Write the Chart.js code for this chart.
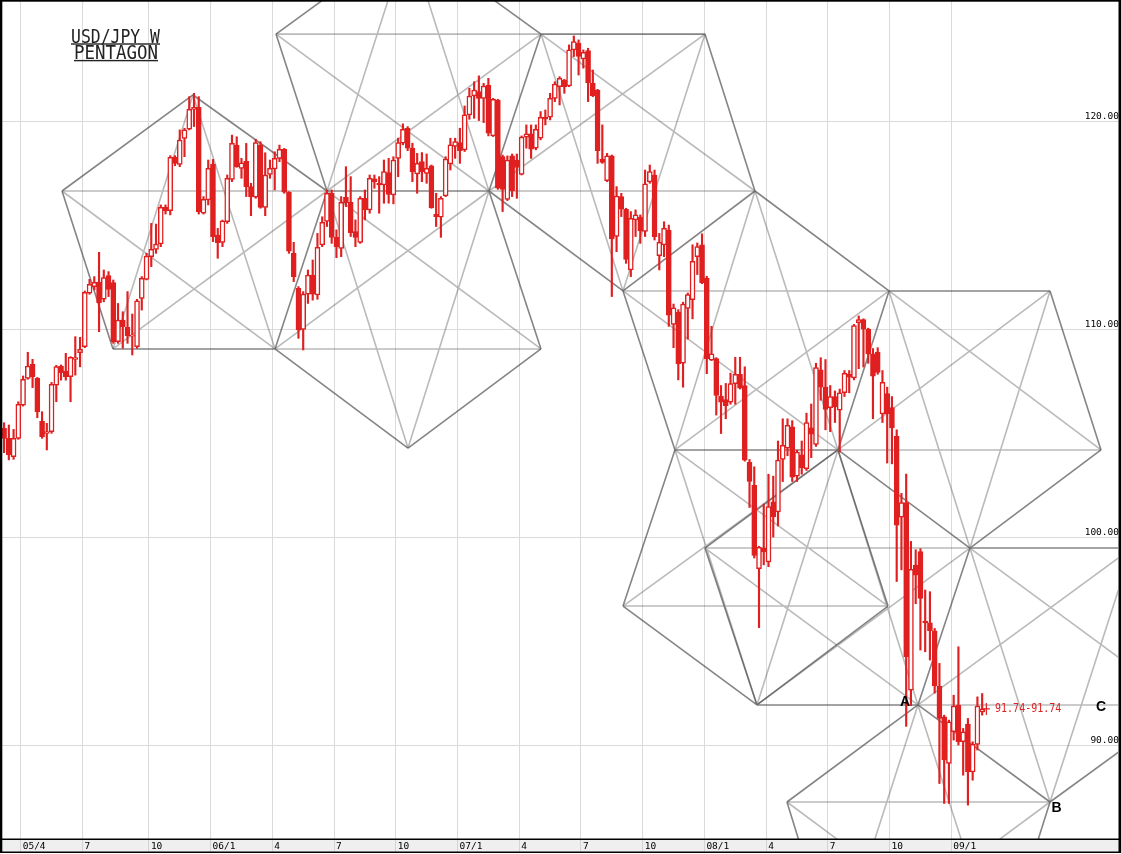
<!DOCTYPE html>
<html>
<head>
<meta charset="utf-8">
<title>USD/JPY W PENTAGON</title>
<script src="https://cdn.jsdelivr.net/npm/chart.js@4.4.1/dist/chart.umd.min.js"></script>
<style>
  html, body { margin: 0; padding: 0; background: #fff; }
  #wrap { width: 1121px; height: 854px; }
</style>
</head>
<body>
<div id="wrap"><canvas id="chart" width="1121" height="854"></canvas></div>
<script>
// weekly bars, first one is the week of Monday 2005-02-28
const firstWeek = Date.UTC(2005, 1, 28);

const opens = [
  105.24,104.76,103.88,104.76,106.36,107.64,108.32,107.65,105.59,105.00,
  105.08,107.32,108.24,108.00,107.73,108.56,108.88,109.17,111.74,112.06,
  112.27,111.45,112.59,112.25,109.41,110.45,110.10,109.68,109.17,111.49,
  112.41,113.50,113.85,114.11,115.87,115.71,118.28,117.94,119.19,119.63,
  120.59,120.69,115.59,116.23,117.96,114.54,114.19,115.18,117.22,118.87,
  117.75,118.10,116.87,116.36,118.87,115.87,117.46,117.72,118.23,118.66,
  116.60,113.66,111.98,110.00,111.70,112.62,111.66,114.06,115.19,116.55,
  114.43,113.90,116.36,116.12,114.71,114.19,116.31,115.75,117.24,117.03,
  116.95,117.54,116.47,118.23,118.96,119.68,118.72,117.48,118.07,117.51,
  117.87,115.54,115.40,116.42,117.96,118.80,118.99,118.64,120.32,121.23,
  121.44,121.12,121.76,119.31,121.04,118.31,116.26,118.35,118.15,117.46,
  119.25,119.41,118.72,119.20,120.21,120.21,121.12,121.68,122.00,121.71,
  123.45,123.77,123.01,123.42,121.84,121.52,118.20,117.16,118.35,114.47,
  116.39,115.78,112.86,115.27,115.40,114.71,117.10,117.43,113.55,114.06,
  114.78,110.24,110.83,108.37,111.01,111.43,113.50,114.07,112.47,108.52,
  108.60,106.79,106.62,106.50,107.39,107.84,107.30,103.60,102.50,98.49,
  99.47,98.81,101.70,101.22,103.74,104.28,105.31,102.94,103.96,103.30,
  105.26,104.46,108.05,107.22,106.24,106.77,106.11,106.95,107.84,107.66,
  110.33,110.47,110.01,108.82,108.91,105.93,106.91,106.24,104.85,100.96,
  101.67,92.64,98.66,99.31,95.96,95.88,95.50,92.84,91.36,89.12,
  90.64,91.92,90.16,91.01,88.71,90.03,91.60
];
const highs = [
  105.51,105.40,105.19,106.52,107.76,108.90,108.56,107.69,106.04,105.48,
  107.45,108.27,108.29,108.85,108.69,109.65,109.62,111.85,112.41,112.54,
  113.71,112.86,112.78,112.38,111.25,110.85,111.82,110.74,111.45,112.54,
  113.66,115.10,115.07,115.99,115.99,118.36,118.36,119.60,119.68,121.20,
  121.36,121.20,116.39,118.15,118.18,114.86,115.26,117.43,119.35,119.27,
  118.23,118.95,117.03,119.15,119.03,118.50,118.15,118.55,118.87,118.71,
  116.63,114.19,112.06,111.82,112.86,113.34,114.62,115.42,116.71,116.71,
  114.79,116.39,117.83,117.35,115.27,116.39,116.71,117.43,117.43,117.35,
  118.15,118.23,118.31,119.20,119.89,119.76,118.96,118.47,118.51,118.44,
  117.91,116.55,116.39,118.31,119.20,119.20,119.68,120.75,121.60,121.92,
  122.20,121.84,122.08,121.12,121.07,118.39,118.35,118.44,118.44,119.31,
  119.84,119.84,119.84,120.48,120.56,121.36,121.92,122.16,122.03,123.69,
  124.12,123.93,123.45,123.53,122.48,121.55,119.84,118.47,118.39,116.87,
  116.55,115.83,115.67,115.75,115.51,117.67,117.91,117.67,114.62,115.18,
  115.02,111.22,110.95,111.31,111.75,114.07,114.16,114.60,112.56,110.15,
  108.64,107.30,107.40,107.90,108.66,108.66,108.20,103.74,103.39,99.56,
  101.60,103.03,102.94,104.63,105.70,105.70,105.61,104.19,104.63,105.97,
  106.41,108.37,108.64,108.55,107.30,107.04,107.13,108.02,108.02,110.24,
  110.65,110.51,110.06,109.08,109.12,108.02,107.22,106.77,105.17,102.11,
  103.04,99.80,99.40,99.45,97.46,97.38,95.61,93.93,91.44,91.20,
  92.40,94.73,90.80,91.28,90.16,92.32,92.48
];
const lows = [
  104.07,103.72,103.75,104.71,106.31,107.60,107.20,105.75,104.76,104.20,
  105.00,106.52,107.56,107.56,106.52,107.80,108.20,109.12,111.69,111.90,
  109.89,111.33,111.58,109.33,109.33,109.09,109.33,108.77,109.09,110.93,
  112.38,113.02,113.66,113.98,115.55,115.51,117.88,117.83,118.31,119.60,
  119.76,115.55,115.55,115.99,114.22,113.42,113.98,115.10,117.11,117.80,
  117.27,116.39,115.47,116.31,115.83,115.47,117.27,116.71,118.07,116.55,
  113.66,112.30,109.57,109.01,111.25,111.41,111.45,113.98,114.95,114.14,
  113.45,113.50,115.91,114.47,113.98,114.14,115.27,115.59,116.79,115.59,
  116.07,116.07,116.04,117.35,118.88,118.60,117.11,116.55,117.11,117.03,
  115.83,114.95,114.43,116.39,117.67,118.23,117.99,118.56,120.11,120.16,
  120.05,119.95,119.31,119.28,116.74,115.67,116.20,116.39,116.31,117.43,
  118.72,118.23,118.64,119.12,119.84,120.08,120.96,120.80,121.36,121.68,
  123.13,122.24,122.57,120.96,121.20,117.99,117.99,117.11,111.58,113.74,
  115.43,113.18,112.54,114.47,114.14,114.47,117.03,114.30,112.86,113.50,
  110.15,109.12,107.57,107.22,109.53,110.51,112.64,112.20,107.87,108.50,
  105.88,104.99,105.70,106.40,106.40,107.13,103.66,101.43,99.00,95.65,
  98.67,98.58,100.01,100.54,102.68,103.92,102.68,102.68,103.03,103.21,
  103.83,104.37,106.59,105.17,105.08,105.52,104.10,106.77,106.95,107.57,
  108.11,108.19,108.37,105.70,107.84,105.52,103.57,103.53,97.87,98.43,
  90.90,91.90,96.80,94.57,94.49,94.09,92.50,88.15,87.19,87.19,
  90.24,90.00,88.55,87.11,88.31,89.76,91.44
];
const closes = [
  104.76,103.96,104.76,106.39,107.60,108.24,107.73,106.04,104.84,105.08,
  107.36,108.21,107.92,107.73,108.66,108.64,109.04,111.78,112.17,112.27,
  111.29,112.49,111.93,109.41,110.45,110.13,109.70,109.73,111.38,112.46,
  113.53,113.85,114.11,115.87,115.70,118.28,117.99,119.11,119.60,120.59,
  120.69,115.67,116.26,117.75,114.46,114.17,115.22,117.27,118.95,117.83,
  118.02,116.87,116.39,118.99,115.87,117.43,117.75,118.23,118.66,116.60,
  113.77,112.54,109.97,111.70,112.62,111.70,113.95,115.15,116.55,114.43,
  113.98,116.12,116.10,114.66,114.43,116.31,115.75,117.27,117.10,116.95,
  117.59,116.50,118.15,118.99,119.63,118.72,117.59,117.99,117.59,117.75,
  115.86,115.43,116.31,118.19,118.88,119.04,118.60,120.32,121.23,121.52,
  121.12,121.71,119.44,121.07,116.79,116.74,118.15,116.66,117.79,119.25,
  119.41,118.67,119.63,120.21,120.11,121.12,121.81,122.08,121.68,123.45,
  123.85,123.13,123.33,121.87,121.25,118.60,118.04,118.35,114.35,116.42,
  115.78,113.37,115.34,115.51,114.74,117.00,117.59,114.46,114.19,114.86,
  110.69,111.04,108.34,111.22,111.67,113.27,113.98,112.25,108.59,108.82,
  106.82,106.50,106.33,107.39,107.84,107.17,103.71,102.68,99.12,99.51,
  99.29,101.47,100.99,103.71,104.42,105.38,102.89,104.10,103.35,105.52,
  104.96,108.16,107.22,106.15,106.77,106.27,106.95,107.89,107.70,110.19,
  110.47,110.01,108.82,107.75,107.93,107.45,105.93,105.26,100.58,101.67,
  94.25,98.45,98.18,97.06,95.88,95.50,92.84,91.28,89.28,91.12,
  91.87,90.16,90.64,88.71,90.03,91.87,91.74
];

const yTicks = [90, 100, 110, 120];

// pentagon corners as [bar index, price]
const corners = [
  [39.79, 121.28],  // 0
  [12.20, 116.66],  // 1
  [68.01, 116.66],  // 2
  [22.94, 109.06],  // 3
  [57.06, 109.06],  // 4
  [57.27, 124.21],  // 5
  [113.08, 124.21], // 6
  [102.13, 116.66], // 7
  [113.08, 109.06], // 8
  [85.07, 104.29],  // 9
  [85.07, 128.83],  // 10
  [147.62, 124.21], // 11
  [158.15, 116.66], // 12
  [130.36, 111.85], // 13
  [186.38, 111.85], // 14
  [220.29, 111.85], // 15
  [231.03, 104.20], // 16
  [141.30, 104.20], // 17
  [175.63, 104.20], // 18
  [203.43, 99.48],  // 19
  [147.62, 99.48],  // 20
  [130.36, 96.69],  // 21
  [186.17, 96.69],  // 22
  [158.57, 91.93],  // 23
  [192.48, 91.93],  // 24  A
  [220.29, 87.26],  // 25  B
  [164.89, 87.26],  // 26
  [237.56, 99.48],  // 27
  [248.30, 91.93],  // 28
  [175.21, 79.65],  // 29
  [209.76, 79.65]   // 30
];
// corners of each pentagon, in order round the shape
const pentagons = [
  [0, 2, 4, 3, 1],
  [2, 7, 8, 9, 4],
  [10, 6, 7, 2, 5],
  [6, 11, 12, 13, 7],
  [12, 14, 18, 17, 13],
  [14, 15, 16, 19, 18],
  [18, 19, 24, 23, 20],
  [17, 18, 22, 23, 21],
  [19, 27, 28, 25, 24],
  [24, 25, 30, 29, 26]
];

const red = '#e02020';

// quarter ticks: first week whose friday falls in Jan/Apr/Jul/Oct
const dayMs = 86400000;
const quarterTicks = [];
for (let i = 1; i < closes.length; i++) {
  const fri = new Date(firstWeek + (i * 7 + 4) * dayMs);
  const prev = new Date(firstWeek + ((i - 1) * 7 + 4) * dayMs);
  const m = fri.getUTCMonth() + 1;
  if (m !== prev.getUTCMonth() + 1 && (m - 1) % 3 === 0) {
    const yy = String(fri.getUTCFullYear() % 100).padStart(2, '0');
    const label = (quarterTicks.length === 0 || m === 1) ? yy + '/' + m : String(m);
    quarterTicks.push({ value: i - 0.5, label: label });
  }
}

const edgeLines = [];
const diagLines = [];
function addLine(list, a, b) {
  list.push({ x: corners[a][0], y: corners[a][1] });
  list.push({ x: corners[b][0], y: corners[b][1] });
  list.push({ x: corners[b][0], y: null });
}
pentagons.forEach(pg => {
  for (let k = 0; k < 5; k++) {
    addLine(edgeLines, pg[k], pg[(k + 1) % 5]);
    addLine(diagLines, pg[k], pg[(k + 2) % 5]);
  }
});

const bars = closes.map((c, i) => i);
const wickData = bars.map(i => ({ x: i, y: [lows[i], highs[i]] }));
const bodyData = bars.map(i => ({ x: i, y: [opens[i], closes[i]] }));
const bodyFill = bars.map(i => closes[i] >= opens[i] ? '#ffffff' : red);

const decor = {
  id: 'decor',
  beforeDraw(chart) {
    const { ctx, chartArea } = chart;
    ctx.save();
    ctx.fillStyle = '#ffffff';
    ctx.fillRect(0, 0, chart.width, chart.height);
    ctx.fillStyle = '#efefef';
    ctx.fillRect(0, chartArea.bottom, chart.width, 13);
    ctx.restore();
  },
  afterDraw(chart) {
    const { ctx, chartArea } = chart;
    const xs = chart.scales.x, ys = chart.scales.y;
    const px = c => xs.getPixelForValue(c[0]);
    const py = c => ys.getPixelForValue(c[1]);
    ctx.save();

    // frame
    ctx.fillStyle = '#000';
    ctx.fillRect(0, 0, chart.width, 1.7);
    ctx.fillRect(0, 0, 2.3, chartArea.bottom + 14);
    ctx.fillRect(chartArea.right + 0.5, 0, 2.5, chartArea.bottom + 14);
    ctx.fillRect(0, chartArea.bottom - 0.5, chart.width, 1.5);
    ctx.fillRect(0, chartArea.bottom + 12.5, chart.width, 1.5);

    // title
    ctx.fillStyle = '#222';
    ctx.font = '16px "DejaVu Sans Mono"';
    ctx.textAlign = 'center';
    ctx.textBaseline = 'alphabetic';
    [['USD/JPY W', 42.7, 71, 89], ['PENTAGON', 59.3, 74, 84]].forEach(t => {
      ctx.save();
      ctx.translate(t[2] + t[3] / 2, t[1]);
      ctx.scale(t[3] / ctx.measureText(t[0]).width, 1.2);
      ctx.fillText(t[0], 0, 0);
      ctx.restore();
      ctx.fillRect(t[2], t[1] + 0.6, t[3], 1.4);
    });

    // point labels
    ctx.fillStyle = '#000';
    ctx.font = 'bold 14px "Liberation Sans"';
    const A = corners[24], B = corners[25];
    ctx.fillText('A', px(A) - 13, py(A) + 1);
    ctx.fillText('B', px(B) + 6.5, py(B) + 10);
    ctx.fillText('C', px(corners[16]), py(A) + 6);

    // last price marker
    const last = closes.length - 1;
    const lx = xs.getPixelForValue(last) + 4.2;
    const ly = ys.getPixelForValue(closes[last]);
    ctx.strokeStyle = red;
    ctx.lineWidth = 1.2;
    ctx.beginPath();
    ctx.moveTo(lx - 3.5, ly); ctx.lineTo(lx + 3.5, ly);
    ctx.moveTo(lx, ly - 6); ctx.lineTo(lx, ly + 6);
    ctx.stroke();
    ctx.fillStyle = red;
    ctx.font = '10px "DejaVu Sans Mono"';
    ctx.textAlign = 'left';
    ctx.textBaseline = 'middle';
    ctx.save();
    ctx.translate(lx + 8.7, ly);
    ctx.scale(1, 1.2);
    const txt = closes[last].toFixed(2) + '-' + closes[last].toFixed(2);
    ctx.fillText(txt, 0, 0);
    ctx.restore();

    ctx.restore();
  }
};

new Chart(document.getElementById('chart'), {
  type: 'bar',
  data: {
    datasets: [
      {
        type: 'line',
        label: 'diagonals',
        data: diagLines,
        borderColor: 'rgba(90,90,90,0.42)',
        borderWidth: 1.6,
        pointRadius: 0,
        spanGaps: false,
        order: 4
      },
      {
        type: 'line',
        label: 'edges',
        data: edgeLines,
        borderColor: 'rgba(70,70,70,0.66)',
        borderWidth: 1.6,
        pointRadius: 0,
        spanGaps: false,
        order: 3
      },
      {
        label: 'wicks',
        data: wickData,
        backgroundColor: red,
        borderWidth: 0,
        barThickness: 1.5,
        grouped: false,
        order: 2
      },
      {
        label: 'bodies',
        data: bodyData,
        backgroundColor: bodyFill,
        borderColor: red,
        borderWidth: 1.5,
        borderSkipped: false,
        barThickness: 5,
        grouped: false,
        order: 1
      }
    ]
  },
  options: {
    responsive: false,
    animation: false,
    events: [],
    layout: { padding: { top: 0, left: 2, right: 0, bottom: 2 } },
    plugins: {
      legend: { display: false },
      tooltip: { enabled: false }
    },
    scales: {
      x: {
        type: 'linear',
        min: -0.438,
        max: 234.61,
        offset: false,
        border: { display: false },
        grid: { offset: false, color: '#dadada', lineWidth: 1, tickLength: 13, tickColor: '#d4d4d4' },
        afterBuildTicks: s => { s.ticks = quarterTicks.map(t => ({ value: t.value })); },
        afterFit: s => { s.height = 13; s.paddingLeft = 0; s.paddingRight = 0; },
        ticks: {
          autoSkip: false,
          maxRotation: 0,
          align: 'start',
          padding: -11,
          labelOffset: 2,
          color: '#000',
          font: { family: 'DejaVu Sans Mono', size: 9.5 },
          callback: (v, i) => quarterTicks[i] ? quarterTicks[i].label : ''
        }
      },
      y: {
        type: 'linear',
        position: 'right',
        min: 85.48,
        max: 125.85,
        border: { display: false },
        grid: { color: '#dadada', lineWidth: 1, drawTicks: false },
        afterBuildTicks: s => { s.ticks = yTicks.map(v => ({ value: v })); },
        afterFit: s => { s.width = 3; s.paddingTop = 0; s.paddingBottom = 0; },
        ticks: {
          mirror: true,
          padding: 1,
          labelOffset: -5,
          color: '#000',
          font: { family: 'DejaVu Sans Mono', size: 9.5 },
          callback: v => Number(v).toFixed(2)
        }
      }
    }
  },
  plugins: [decor]
});
</script>
</body>
</html>
